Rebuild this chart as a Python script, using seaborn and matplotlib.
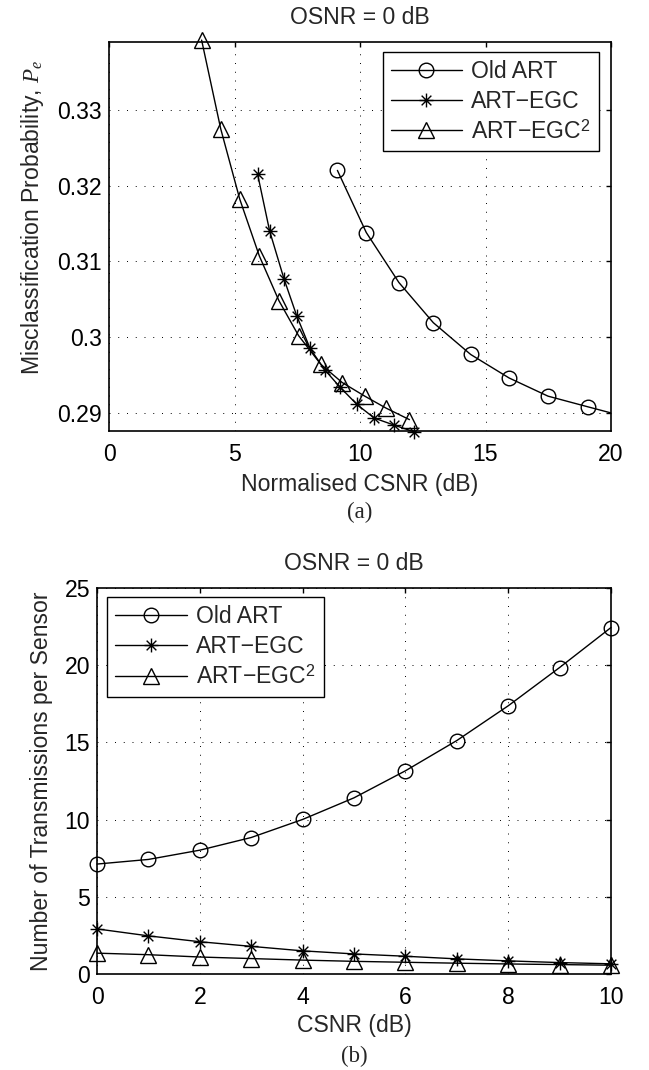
import numpy as np
import pandas as pd
import matplotlib
matplotlib.use('Agg')
import matplotlib.pyplot as plt
from matplotlib.path import Path
import seaborn as sns

# (a) misclassification probability vs normalised CSNR
a_old_x = [9.10, 10.25, 11.55, 12.92, 14.41, 15.94, 17.49, 19.07, 20.67]
a_old_y = [0.3220, 0.3138, 0.3072, 0.3019, 0.2977, 0.2946, 0.2922, 0.2908, 0.2894]
a_egc_x = [5.92, 6.40, 6.97, 7.48, 8.01, 8.59, 9.20, 9.88, 10.57, 11.34, 12.15]
a_egc_y = [0.3215, 0.3140, 0.3077, 0.3028, 0.2985, 0.2957, 0.2934, 0.2911, 0.2893, 0.2884, 0.2875]
a_egc2_x = [3.69, 4.45, 5.21, 5.99, 6.77, 7.55, 8.44, 9.29, 10.19, 11.05, 11.97]
a_egc2_y = [0.3392, 0.3275, 0.3182, 0.3107, 0.3048, 0.3002, 0.2964, 0.2940, 0.2922, 0.2906, 0.2891]

# (b) transmissions per sensor vs CSNR
b_csnr = [0, 1, 2, 3, 4, 5, 6, 7, 8, 9, 10]
b_old = [7.12, 7.42, 8.02, 8.84, 10.01, 11.41, 13.16, 15.12, 17.37, 19.85, 22.44]
b_egc = [2.92, 2.47, 2.09, 1.79, 1.50, 1.30, 1.15, 0.98, 0.85, 0.74, 0.66]
b_egc2 = [1.35, 1.25, 1.10, 1.00, 0.90, 0.82, 0.76, 0.70, 0.65, 0.61, 0.57]

labels = ['Old ART', 'ART\u2212EGC', 'ART\u2212EGC$^2$']

sns.set_style('white')
plt.rcParams['font.family'] = ['Liberation Sans', 'DejaVu Sans']
plt.rcParams['mathtext.fontset'] = 'custom'
plt.rcParams['mathtext.rm'] = 'Liberation Sans'
plt.rcParams['mathtext.it'] = 'Liberation Serif:italic'
FS = 16.6

# matlab style asterisk marker
star = Path([(-1, 0), (1, 0), (0, -1), (0, 1), (-.7, -.7), (.7, .7), (-.7, .7), (.7, -.7)],
            [Path.MOVETO, Path.LINETO] * 4)


def draw(ax, x, y, marker, label, ms, clip=True):
    sns.lineplot(x=x, y=y, ax=ax, color='k', linewidth=1.0, marker=marker, markersize=ms,
                 markerfacecolor='none', markeredgecolor='k', markeredgewidth=1.0,
                 label=label, clip_on=clip, sort=False, estimator=None)


def style(ax):
    ax.grid(True, linestyle=(0, (1, 8)), color='k', linewidth=0.7)
    ax.tick_params(direction='in', top=True, right=True, length=3.5, width=1.0,
                   labelsize=FS, colors='k', pad=5)
    ax.tick_params(axis='x', pad=9)
    for s in ax.spines.values():
        s.set_visible(True)
        s.set_color('k')
        s.set_linewidth(1.2)


def legend(ax, **kw):
    lg = ax.legend(borderaxespad=0, fontsize=FS, fancybox=False, framealpha=1, edgecolor='k',
                   handlelength=3.1, labelspacing=0.3, borderpad=0.35, handletextpad=0.4, **kw)
    lg.get_frame().set_linewidth(1.0)


fig = plt.figure(figsize=(6.49, 10.70), dpi=100)

ax1 = fig.add_axes([109 / 649, 1 - 431 / 1070, 502 / 649, 389 / 1070])
draw(ax1, a_old_x, a_old_y, 'o', labels[0], 10.5)
draw(ax1, a_egc_x, a_egc_y, star, labels[1], 10, clip=False)
draw(ax1, a_egc2_x, a_egc2_y, '^', labels[2], 11, clip=False)
ax1.set_xlim(0, 20)
ax1.set_ylim(0.2876, 0.33895)
ax1.set_xticks([0, 5, 10, 15, 20])
ax1.set_yticks([0.29, 0.30, 0.31, 0.32, 0.33])
ax1.set_yticklabels(['0.29', '0.3', '0.31', '0.32', '0.33'])
style(ax1)
ax1.set_title('OSNR = 0 dB', fontsize=FS, pad=13)
ax1.set_xlabel('Normalised CSNR (dB)', fontsize=FS, labelpad=5)
ax1.set_ylabel('Misclassification Probability, $P_e$', fontsize=FS)
ax1.yaxis.set_label_coords(-0.125, 0.55)
legend(ax1, loc='upper right', bbox_to_anchor=(0.976, 0.975))

ax2 = fig.add_axes([97 / 649, 1 - 974 / 1070, 514 / 649, 386 / 1070])
draw(ax2, b_csnr, b_old, 'o', labels[0], 10.5, clip=False)
draw(ax2, b_csnr, b_egc, star, labels[1], 10, clip=False)
draw(ax2, b_csnr, b_egc2, '^', labels[2], 11, clip=False)
ax2.set_xlim(0, 10)
ax2.set_ylim(0, 25)
ax2.set_xticks(range(0, 11, 2))
ax2.set_yticks(range(0, 26, 5))
style(ax2)
ax2.set_title('OSNR = 0 dB', fontsize=FS, pad=13)
ax2.set_xlabel('CSNR (dB)', fontsize=FS, labelpad=3)
ax2.set_ylabel('Number of Transmissions per Sensor', fontsize=FS)
ax2.yaxis.set_label_coords(-0.086, 0.5)
legend(ax2, loc='upper left', bbox_to_anchor=(0.02, 0.976))

fig.text(360 / 649, 1 - 512 / 1070, '(a)', ha='center', va='center',
         family='Liberation Serif', fontsize=16.5)
fig.text(354 / 649, 1 - 1056 / 1070, '(b)', ha='center', va='center',
         family='Liberation Serif', fontsize=16.5)

fig.savefig('out.png', dpi=100, facecolor='white')
